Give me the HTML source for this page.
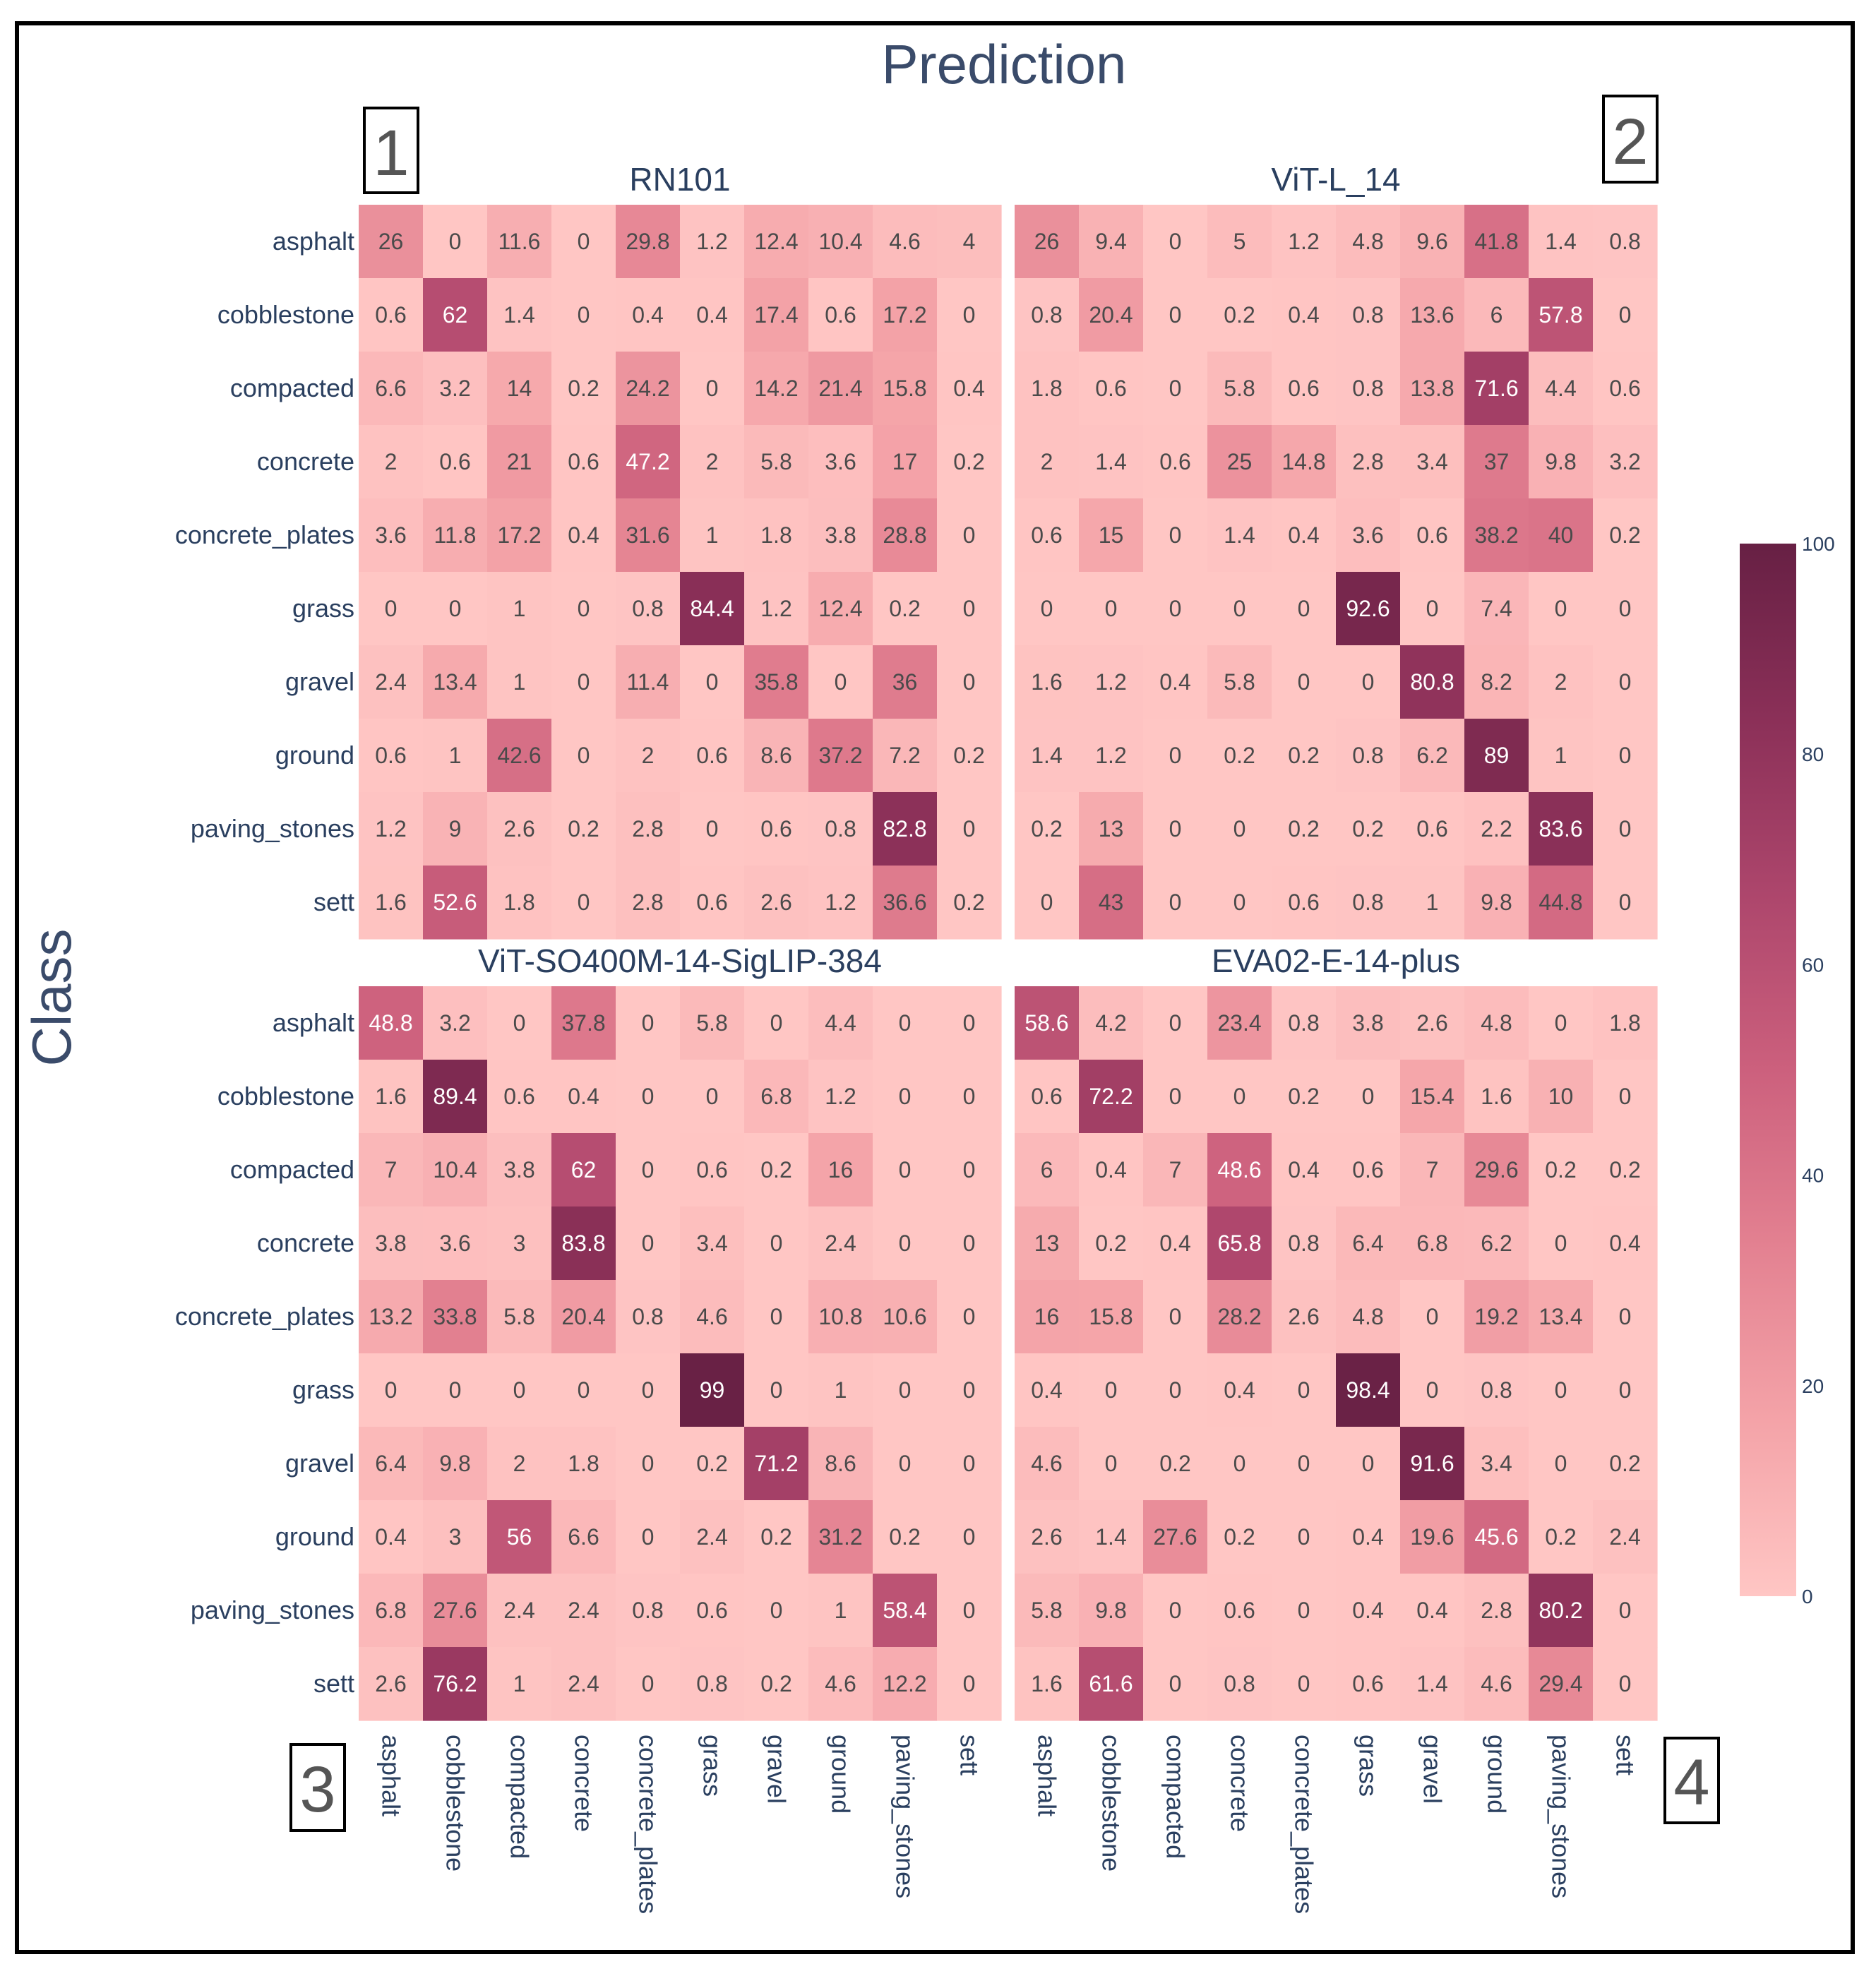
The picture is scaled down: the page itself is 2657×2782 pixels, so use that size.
<!DOCTYPE html>
<html><head><meta charset="utf-8">
<style>
html,body{margin:0;padding:0;background:#fff;}
svg{display:block;font-family:"Liberation Sans",Arial,sans-serif;}
</style></head>
<body>
<svg id="chart" width="2657" height="2782" viewBox="0 0 2657 2782" xmlns="http://www.w3.org/2000/svg">
<defs>
<linearGradient id="burg" x1="0" y1="1" x2="0" y2="0">
<stop offset="0" stop-color="rgb(255,198,196)"/>
<stop offset="0.1667" stop-color="rgb(244,163,168)"/>
<stop offset="0.3333" stop-color="rgb(227,129,145)"/>
<stop offset="0.5" stop-color="rgb(204,96,125)"/>
<stop offset="0.6667" stop-color="rgb(173,70,108)"/>
<stop offset="0.8333" stop-color="rgb(139,48,88)"/>
<stop offset="1" stop-color="rgb(103,32,68)"/>
</linearGradient>
</defs>
<rect x="24" y="33" width="2600" height="2732" fill="#fff" stroke="#000" stroke-width="6"/>
<text x="1422" y="118" font-size="78" fill="#3a4b6a" text-anchor="middle">Prediction</text>
<text transform="translate(100,1413) rotate(-90)" font-size="78" fill="#3a4b6a" text-anchor="middle">Class</text>
<g id="panels"></g>
<rect x="2464" y="770" width="80" height="1491" fill="url(#burg)"/>
<g id="cbticks"></g>
<g><rect x="516" y="153" width="76" height="120" fill="#fff" stroke="#000" stroke-width="4"/><text x="554" y="248" font-size="92" fill="#555" text-anchor="middle">1</text></g>
<g><rect x="2271" y="136" width="76" height="122" fill="#fff" stroke="#000" stroke-width="4"/><text x="2309" y="232" font-size="92" fill="#555" text-anchor="middle">2</text></g>
<g><rect x="412" y="2471" width="76" height="122" fill="#fff" stroke="#000" stroke-width="4"/><text x="450" y="2566" font-size="92" fill="#555" text-anchor="middle">3</text></g>
<g><rect x="2358" y="2462" width="76" height="120" fill="#fff" stroke="#000" stroke-width="4"/><text x="2396" y="2556" font-size="92" fill="#555" text-anchor="middle">4</text></g>
</svg>
<script>
const classes = ["asphalt","cobblestone","compacted","concrete","concrete_plates","grass","gravel","ground","paving_stones","sett"];
const modelNames = ["RN101","ViT-L_14","ViT-SO400M-14-SigLIP-384","EVA02-E-14-plus"];
const rn101 = [
[26,0,11.6,0,29.8,1.2,12.4,10.4,4.6,4],
[0.6,62,1.4,0,0.4,0.4,17.4,0.6,17.2,0],
[6.6,3.2,14,0.2,24.2,0,14.2,21.4,15.8,0.4],
[2,0.6,21,0.6,47.2,2,5.8,3.6,17,0.2],
[3.6,11.8,17.2,0.4,31.6,1,1.8,3.8,28.8,0],
[0,0,1,0,0.8,84.4,1.2,12.4,0.2,0],
[2.4,13.4,1,0,11.4,0,35.8,0,36,0],
[0.6,1,42.6,0,2,0.6,8.6,37.2,7.2,0.2],
[1.2,9,2.6,0.2,2.8,0,0.6,0.8,82.8,0],
[1.6,52.6,1.8,0,2.8,0.6,2.6,1.2,36.6,0.2]];
const vitL14 = [
[26,9.4,0,5,1.2,4.8,9.6,41.8,1.4,0.8],
[0.8,20.4,0,0.2,0.4,0.8,13.6,6,57.8,0],
[1.8,0.6,0,5.8,0.6,0.8,13.8,71.6,4.4,0.6],
[2,1.4,0.6,25,14.8,2.8,3.4,37,9.8,3.2],
[0.6,15,0,1.4,0.4,3.6,0.6,38.2,40,0.2],
[0,0,0,0,0,92.6,0,7.4,0,0],
[1.6,1.2,0.4,5.8,0,0,80.8,8.2,2,0],
[1.4,1.2,0,0.2,0.2,0.8,6.2,89,1,0],
[0.2,13,0,0,0.2,0.2,0.6,2.2,83.6,0],
[0,43,0,0,0.6,0.8,1,9.8,44.8,0]];
const siglip = [
[48.8,3.2,0,37.8,0,5.8,0,4.4,0,0],
[1.6,89.4,0.6,0.4,0,0,6.8,1.2,0,0],
[7,10.4,3.8,62,0,0.6,0.2,16,0,0],
[3.8,3.6,3,83.8,0,3.4,0,2.4,0,0],
[13.2,33.8,5.8,20.4,0.8,4.6,0,10.8,10.6,0],
[0,0,0,0,0,99,0,1,0,0],
[6.4,9.8,2,1.8,0,0.2,71.2,8.6,0,0],
[0.4,3,56,6.6,0,2.4,0.2,31.2,0.2,0],
[6.8,27.6,2.4,2.4,0.8,0.6,0,1,58.4,0],
[2.6,76.2,1,2.4,0,0.8,0.2,4.6,12.2,0]];
const eva02 = [
[58.6,4.2,0,23.4,0.8,3.8,2.6,4.8,0,1.8],
[0.6,72.2,0,0,0.2,0,15.4,1.6,10,0],
[6,0.4,7,48.6,0.4,0.6,7,29.6,0.2,0.2],
[13,0.2,0.4,65.8,0.8,6.4,6.8,6.2,0,0.4],
[16,15.8,0,28.2,2.6,4.8,0,19.2,13.4,0],
[0.4,0,0,0.4,0,98.4,0,0.8,0,0],
[4.6,0,0.2,0,0,0,91.6,3.4,0,0.2],
[2.6,1.4,27.6,0.2,0,0.4,19.6,45.6,0.2,2.4],
[5.8,9.8,0,0.6,0,0.4,0.4,2.8,80.2,0],
[1.6,61.6,0,0.8,0,0.6,1.4,4.6,29.4,0]];
const cbTicks = [0,20,40,60,80,100];

const NS="http://www.w3.org/2000/svg";
const stops=[[255,198,196],[244,163,168],[227,129,145],[204,96,125],[173,70,108],[139,48,88],[103,32,68]];
function color(v){const t=Math.max(0,Math.min(1,v/100))*(stops.length-1);const i=Math.min(stops.length-2,Math.floor(t));const f=t-i;
const c=stops[i].map((a,k)=>Math.round(a+(stops[i+1][k]-a)*f));return `rgb(${c[0]},${c[1]},${c[2]})`;}
function mk(tag,attrs,parent){const e=document.createElementNS(NS,tag);for(const k in attrs)e.setAttribute(k,attrs[k]);parent.appendChild(e);return e;}
const panelsG=document.getElementById('panels');
const matrices=[rn101,vitL14,siglip,eva02];
const origins=[[508,290],[1437,290],[508,1397],[1437,1397]];
const W=910,H=1040;
function xScale(ox,j){return ox+j*W/classes.length;}
function yScale(oy,i){return oy+i*H/classes.length;}
const cw=W/classes.length,ch=H/classes.length;
matrices.forEach((m,p)=>{
  const [ox,oy]=origins[p];
  const g=mk('g',{},panelsG);
  
  
  const t=mk('text',{x:ox+W/2,y:oy-20,'font-size':46,fill:'#2a3f5f','text-anchor':'middle'},g);
  t.textContent=modelNames[p];
  
  
  m.forEach((row,i)=>row.forEach((v,j)=>{
    const r=mk('rect',{x:xScale(ox,j),y:yScale(oy,i),width:cw+0.6,height:ch+0.6,fill:color(v)},g);
    
    
    const tx=mk('text',{x:xScale(ox,j)+cw/2,y:yScale(oy,i)+ch/2+11,'font-size':32,fill:v>=45?'#fff':'#4a4a4a','text-anchor':'middle'},g);
    tx.textContent=String(v);
    
    
  }));
  if(p%2===0){classes.forEach((c,i)=>{
    const l=mk('text',{x:ox-6,y:yScale(oy,i)+ch/2+12,'font-size':36,fill:'#2a3f5f','text-anchor':'end'},g);
    l.textContent=c;
    
    
  });}
  if(p>=2){classes.forEach((c,j)=>{
    const cx=xScale(ox,j)+cw/2-12;
    const l=mk('text',{transform:`translate(${cx},${oy+H+20}) rotate(90)`,'font-size':36,fill:'#2a3f5f','text-anchor':'start'},g);
    l.textContent=c;
    
    
  });}
});
const cb=document.getElementById('cbticks');
cbTicks.forEach(v=>{
  const y=2261-(v/100)*1491;
  const l=mk('text',{x:2552,y:y+10,'font-size':28,fill:'#2a3f5f'},cb);
  l.textContent=String(v);
  
  
});
</script>
</body></html>
